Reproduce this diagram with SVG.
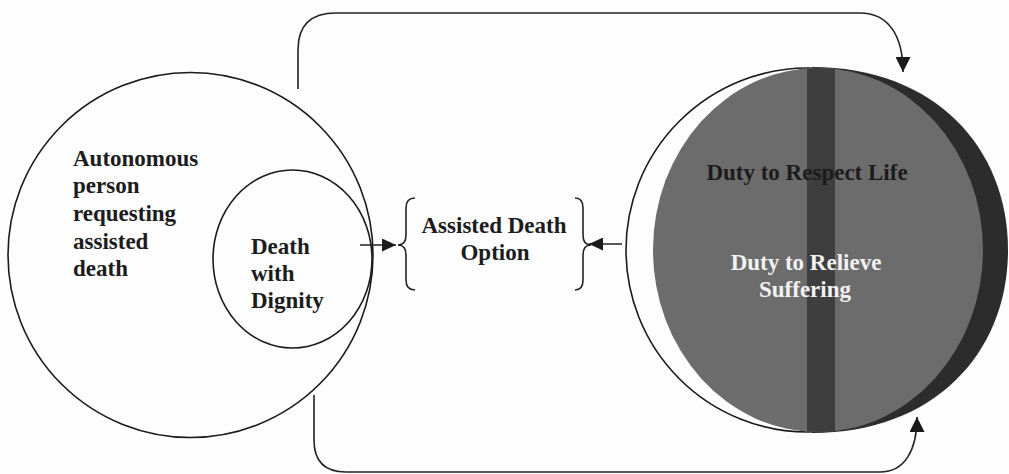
<svg xmlns="http://www.w3.org/2000/svg" width="1009" height="474" viewBox="0 0 1009 474">
  <style>
    .outline { fill: none; stroke: #1a1a1a; stroke-width: 1.6; }
    .conn { fill: none; stroke: #222; stroke-width: 1.6; }
    .lbl { font-family: "Liberation Serif", "Times New Roman", serif; font-weight: bold; font-size: 23px; fill: #1c1c1c; }
    .lblw { font-family: "Liberation Serif", "Times New Roman", serif; font-weight: bold; font-size: 23px; fill: #f2f2f2; }
  </style>
  <defs>
    <marker id="arrow" markerUnits="userSpaceOnUse" markerWidth="16" markerHeight="15" refX="15" refY="7.5" orient="auto">
      <path d="M0,0 L15,7.5 L0,15 Z" fill="#1a1a1a"/>
    </marker>
    <marker id="arrowS" markerUnits="userSpaceOnUse" markerWidth="15" markerHeight="13" refX="14" refY="6.5" orient="auto">
      <path d="M0,0 L14,6.5 L0,13 Z" fill="#1a1a1a"/>
    </marker>
    <clipPath id="grayClip">
      <ellipse cx="818" cy="250" rx="165" ry="182"/>
    </clipPath>
  </defs>
  <rect width="1009" height="474" fill="#fdfdfd"/>

  <g id="autonomous-person">
    <circle class="outline" cx="190.5" cy="255" r="182.5"/>
    <text class="lbl" x="73" y="166">Autonomous</text>
    <text class="lbl" x="73" y="193">person</text>
    <text class="lbl" x="73" y="221">requesting</text>
    <text class="lbl" x="73" y="249">assisted</text>
    <text class="lbl" x="73" y="276">death</text>
  </g>

  <g id="death-with-dignity">
    <ellipse class="outline" cx="292.5" cy="259" rx="79.5" ry="89"/>
    <text class="lbl" x="251" y="254">Death</text>
    <text class="lbl" x="251" y="281">with</text>
    <text class="lbl" x="251" y="308">Dignity</text>
  </g>

  <g id="assisted-death-option">
    <path class="conn" d="M415,198 Q406,198 406,208 V235 Q406,245 398,245 Q406,245 406,255 V280 Q406,290 415,290"/>
    <path class="conn" d="M575,198 Q583,198 583,208 V235 Q583,245 591,245 Q583,245 583,255 V280 Q583,290 575,290"/>
    <text class="lbl" x="494" y="233" text-anchor="middle">Assisted Death</text>
    <text class="lbl" x="495" y="260" text-anchor="middle">Option</text>
  </g>

  <g id="duties">
    <circle class="outline" cx="808" cy="250" r="182" fill="#fdfdfd"/>
    <path d="M812,67 C935,67 1008,148 1008,250 C1008,352 935,433 812,433 Z" fill="#2c2c2c"/>
    <ellipse cx="818" cy="250" rx="165" ry="182" fill="#6c6c6c"/>
    <rect x="807" y="60" width="28" height="380" fill="#3e3e3e" clip-path="url(#grayClip)"/>
    <text class="lbl" x="807" y="180" text-anchor="middle" fill="#111">Duty to Respect Life</text>
    <text class="lblw" x="806" y="270" text-anchor="middle">Duty to Relieve</text>
    <text class="lblw" x="805" y="297" text-anchor="middle">Suffering</text>
  </g>

  <g id="connectors">
    <path class="conn" d="M298,89 V50 Q298,13 336,13 H860 C888,13 903,35 903,72" marker-end="url(#arrow)"/>
    <path class="conn" d="M314,395 V440 Q314,472 346,472 H880 C905,472 917,450 917,417" marker-end="url(#arrow)"/>
    <path class="conn" d="M360,245 H396" marker-end="url(#arrowS)"/>
    <path class="conn" d="M622,244 H589" marker-end="url(#arrowS)"/>
  </g>
</svg>
